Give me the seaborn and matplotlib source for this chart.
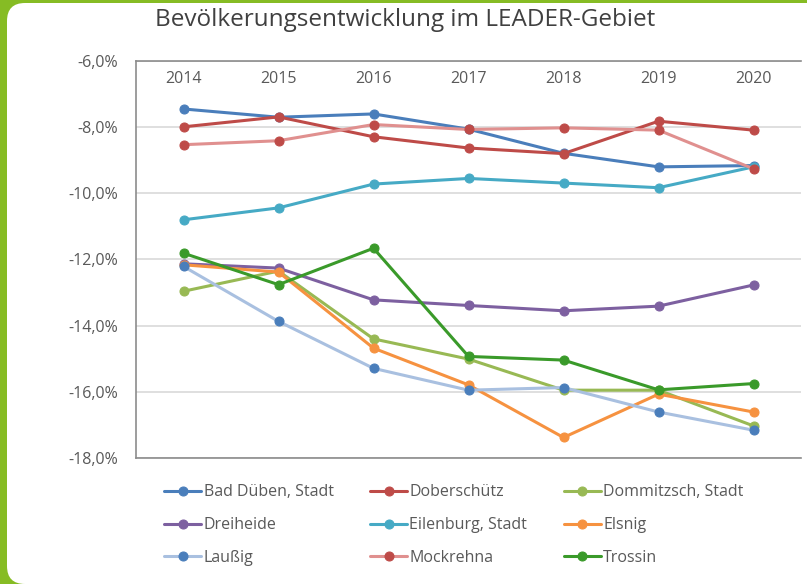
import numpy as np
import pandas as pd
import matplotlib
matplotlib.use("Agg")
import matplotlib.pyplot as plt
import seaborn as sns
from matplotlib.patches import FancyBboxPatch
from matplotlib.ticker import FuncFormatter

# Data (Veränderung in %)
years = ["2014", "2015", "2016", "2017", "2018", "2019", "2020"]
bad_dueben = [-7.45, -7.70, -7.60, -8.06, -8.79, -9.20, -9.16]
doberschuetz = [-7.99, -7.69, -8.29, -8.63, -8.80, -7.82, -8.09]
dommitzsch = [-12.96, -12.35, -14.40, -15.01, -15.95, -15.95, -17.03]
dreiheide = [-12.13, -12.26, -13.22, -13.39, -13.55, -13.41, -12.77]
eilenburg = [-10.80, -10.44, -9.72, -9.55, -9.69, -9.83, -9.20]
elsnig = [-12.16, -12.38, -14.68, -15.79, -17.38, -16.07, -16.61]
laussig = [-12.21, -13.87, -15.29, -15.95, -15.87, -16.61, -17.16]
mockrehna = [-8.53, -8.41, -7.92, -8.07, -8.02, -8.09, -9.26]
trossin = [-11.81, -12.76, -11.66, -14.93, -15.04, -15.94, -15.75]

names = ["Bad Düben, Stadt", "Doberschütz", "Dommitzsch, Stadt", "Dreiheide",
         "Eilenburg, Stadt", "Elsnig", "Laußig", "Mockrehna", "Trossin"]
series = [bad_dueben, doberschuetz, dommitzsch, dreiheide, eilenburg,
          elsnig, laussig, mockrehna, trossin]
line_colors = ["#4a7ebb", "#be4b48", "#98b954", "#7d60a0", "#46aac5",
               "#f69240", "#a9c0e0", "#e0908f", "#3a9a2a"]
marker_colors = ["#4a7ebb", "#be4b48", "#98b954", "#7d60a0", "#46aac5",
                 "#f69240", "#4a7ebb", "#be4b48", "#3a9a2a"]

sns.set_style("white")
plt.rcParams["font.family"] = ["Open Sans", "DejaVu Sans"]

fig = plt.figure(figsize=(8.07, 5.84), dpi=100)
fig.patch.set_facecolor("#86bc24")
# white rounded card on green background
card = FancyBboxPatch((7, 0), 830, 581, boxstyle="round,pad=0,rounding_size=18",
                      transform=None, facecolor="white", edgecolor="none", zorder=-10)
fig.patches.append(card)

ax = fig.add_axes([136 / 807, 1 - 458 / 584, 665 / 807, (458 - 61) / 584])
ax.set_facecolor("none")

x = np.arange(len(years))
for name, vals, lc, mc in zip(names, series, line_colors, marker_colors):
    df = pd.DataFrame({"pos": x, "val": vals})
    sns.lineplot(data=df, x="pos", y="val", ax=ax, color=lc, linewidth=2.2,
                 marker="o", markersize=6.5, label=name)
    ln = ax.lines[-1]
    ln.set_markerfacecolor(mc)
    ln.set_markeredgecolor(mc)

ax.set_xlim(-0.5, 6.5)
ax.set_ylim(-18, -6)
ax.set_yticks(np.arange(-18, -5, 2))
ax.yaxis.set_major_formatter(FuncFormatter(lambda v, p: f"{v:.1f}%".replace(".", ",")))
ax.set_xticks(x)
ax.set_xticklabels(years)
ax.xaxis.tick_top()
ax.tick_params(axis="x", length=0, pad=-19, labelsize=11.5, labelcolor="#595959")
ax.tick_params(axis="y", length=0, pad=13, labelsize=11.5, labelcolor="#595959")
ax.set_xlabel("")
ax.set_ylabel("")

ax.grid(axis="y", color="#d9d9d9", linewidth=1.2)
ax.grid(axis="x", visible=False)
for side in ["left", "top", "bottom"]:
    ax.spines[side].set_color("#8c8c8c")
    ax.spines[side].set_linewidth(1.2)
ax.spines["right"].set_visible(False)

# legend, row-major order in three columns
handles = ax.lines[:len(names)]
ax.get_legend().remove()
order = [0, 3, 6, 1, 4, 7, 2, 5, 8]
fig.legend([handles[i] for i in order], [names[i] for i in order],
           ncol=3, loc="upper left", bbox_to_anchor=(150 / 807, 1 - 470 / 584),
           frameon=False, fontsize=11.5, labelcolor="#595959",
           handlelength=2.3, handletextpad=0.15, columnspacing=2.3,
           labelspacing=1.05)

fig.text(405 / 807, 1 - 20 / 584, "Bevölkerungsentwicklung im LEADER-Gebiet",
         ha="center", va="center", fontsize=17.5, color="#404040")

fig.savefig("out.png", dpi=100, facecolor=fig.get_facecolor())
